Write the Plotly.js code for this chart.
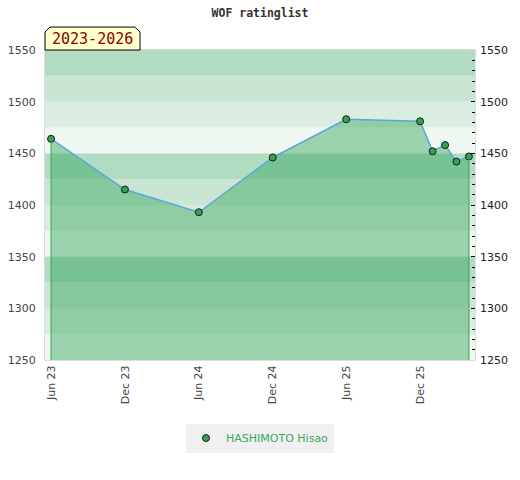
<!DOCTYPE html>
<html>
<head>
<meta charset="utf-8">
<script src="https://cdn.plot.ly/plotly-3.0.1.min.js"></script>
<style>html,body{margin:0;padding:0;background:#fff;}#chart{width:520px;height:480px;}</style>
</head>
<body>
<div id="chart"></div>
<script>
// ---- data ----
const chartTitle = "WOF ratinglist";
const periodLabel = "2023-2026";
const playerName = "HASHIMOTO Hisao";
const dates = ["2023-06-01","2023-12-01","2024-06-01","2024-12-01","2025-06-01",
               "2025-12-01","2026-01-01","2026-02-01","2026-03-01","2026-04-01"];
const ratings = [1464, 1415, 1393, 1446, 1483, 1481, 1452, 1458, 1442, 1447];
const yRange = [1250, 1550];
const xRange = ["2023-05-17", "2026-04-16"];
const xTickStart = "2023-06-01";

// ---- styling ----
const bandColors = ["#c9e6d4", "#b2dcc2", "#eef7f0", "#dbede1"]; // by (start%100)/25
const shapes = [];
for (let v = yRange[0]; v < yRange[1]; v += 25) {
  shapes.push({type:"rect", xref:"paper", yref:"y", x0:0, x1:1, y0:v, y1:v+25,
    fillcolor: bandColors[(v % 100) / 25], line:{width:0}, layer:"below"});
}
// chamfered label box
shapes.push({type:"path", xref:"paper", yref:"paper",
  path:"M0,1 L0,1.058 L0.0116,1.074 L0.209,1.074 L0.221,1.058 L0.221,1 Z",
  fillcolor:"#ffffcc", line:{color:"#000", width:1}, layer:"above"});

const n = dates.length;
const fillTrace = {
  x: [dates[0]].concat(dates, [dates[n-1]]),
  y: [yRange[0]].concat(ratings, [yRange[0]]),
  type:"scatter", mode:"lines", fill:"toself",
  fillcolor:"rgba(44,162,85,0.43)", line:{width:0}, hoverinfo:"skip", showlegend:false
};
const edgeTrace = {
  x: [dates[0], dates[0], null, dates[n-1], dates[n-1]],
  y: [yRange[0], ratings[0], null, yRange[0], ratings[n-1]],
  type:"scatter", mode:"lines", line:{color:"#3a9e5c", width:1},
  yaxis:"y2", showlegend:false, hoverinfo:"skip"
};
const lineTrace = {
  x: dates, y: ratings, type:"scatter", mode:"lines",
  line:{color:"#5da5da", width:1.5}, showlegend:false
};
const markerTrace = {
  x: dates, y: ratings, type:"scatter", mode:"markers", name: playerName,
  marker:{color:"#31a354", size:7, line:{color:"#1a1a1a", width:1}}
};

const layout = {
  width:520, height:480,
  margin:{l:45, r:45, t:50, b:120, pad:0},
  paper_bgcolor:"#fff", plot_bgcolor:"#fff",
  title:{text:chartTitle, x:0.5, xanchor:"center", y:0.973, yanchor:"middle",
    font:{family:"DejaVu Sans Mono", size:11.5, color:"#333", weight:"bold"}},
  font:{family:"DejaVu Sans", size:11, color:"#444"},
  xaxis:{type:"date", range:xRange, tick0:xTickStart, dtick:"M6", tickformat:"%b %y",
    tickangle:-90, showgrid:false, zeroline:false, showline:true, mirror:true,
    linecolor:"#dddddd", linewidth:1, ticks:"", ticklen:0,
    tickfont:{family:"DejaVu Sans", size:11, color:"#444"}},
  yaxis:{range:yRange, dtick:50, showgrid:true, gridcolor:"rgba(225,225,225,0.6)",
    zeroline:false, showline:true, mirror:true, linecolor:"#dddddd", ticks:"",
    ticklabelstandoff:6, tickfont:{family:"DejaVu Sans", size:11, color:"#444"}},
  yaxis2:{range:yRange, dtick:50, overlaying:"y", side:"right", showgrid:false,
    zeroline:false, showline:false, ticks:"inside", ticklen:4, tickcolor:"#000",
    tickwidth:1, ticklabelstandoff:4,
    minor:{dtick:10, ticks:"inside", ticklen:3, tickcolor:"#000", tickwidth:1, showgrid:false},
    tickfont:{family:"DejaVu Sans", size:11, color:"#222"}},
  showlegend:true,
  legend:{orientation:"h", x:0.5, xanchor:"center", y:-0.205, yanchor:"top",
    bgcolor:"#f0f0f0", font:{family:"DejaVu Sans", size:11, color:"#3ba85f"},
    itemwidth:30, tracegroupgap:0},
  shapes: shapes,
  annotations:[{xref:"paper", yref:"paper", x:0.1105, y:1.037, xanchor:"center", yanchor:"middle",
    text:periodLabel, showarrow:false,
    font:{family:"DejaVu Sans Mono", size:15, color:"#8b0000"}}]
};

Plotly.newPlot("chart", [fillTrace, edgeTrace, lineTrace, markerTrace], layout,
  {displayModeBar:false, staticPlot:true});
</script>
</body>
</html>
